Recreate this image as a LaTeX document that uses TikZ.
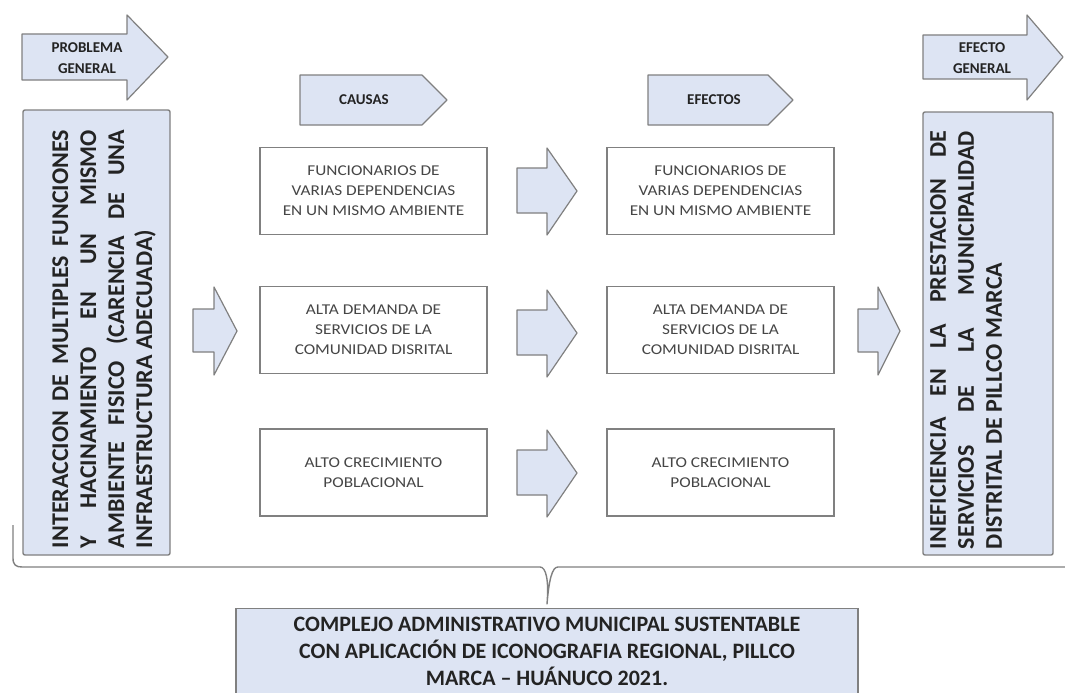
\documentclass[tikz,border=0pt]{standalone}
\usepackage{fontspec}
\setmainfont{Carlito}
\newfontfamily\stretchfont[FakeStretch=1.15]{Carlito}
\definecolor{bfill}{RGB}{221,228,243}
\definecolor{bline}{RGB}{128,128,128}
\definecolor{txt}{RGB}{70,70,70}
\definecolor{dtxt}{RGB}{35,35,35}
\newcommand\blkarrow[8]{%
  \filldraw[arr] (#1,#4) -- (#2,#4) -- (#2,#6) -- (#3,#8) -- (#2,#7) -- (#2,#5) -- (#1,#5) -- cycle;}
\begin{document}
\begin{tikzpicture}[x=1pt,y=-1pt,
  arr/.style={draw=bline, line width=1.2pt, fill=bfill, line join=round},
  wbox/.style={draw=bline, line width=1.6pt, fill=white, minimum width=227pt, minimum height=87pt,
    inner sep=0pt, align=center, text=txt, font=\stretchfont\fontsize{15}{20}\selectfont},
  tallbox/.style={draw=bline, line width=1.4pt, fill=bfill, rounded corners=2pt, inner sep=0pt},
  talltext/.style={rotate=90, text width=418pt, align=justify, inner sep=0pt, text=dtxt,
    font=\bfseries\fontsize{24}{28}\selectfont},
  htext/.style={align=center, inner sep=0pt, text=dtxt, font=\bfseries\fontsize{15}{21}\selectfont},
  brace/.style={draw=bline, line width=1.4pt, line join=round}]
\useasboundingbox (0,0) rectangle (1065,693);
\fill[white] (0,0) rectangle (1065,693);

% header arrows
\blkarrow{22}{127}{168}{34}{80}{15}{100}{57}
\node[htext] (pg) at (87,58) {PROBLEMA\\GENERAL};
\blkarrow{923}{1027}{1063}{35}{79}{15}{100}{57}
\node[htext] (eg) at (982,58) {EFECTO\\GENERAL};

\filldraw[arr] (300,75) -- (422,75) -- (447,100) -- (422,125) -- (300,125) -- cycle;
\node[htext] (causas) at (364,100) {CAUSAS};
\filldraw[arr] (648,75) -- (768,75) -- (793,100) -- (768,125) -- (648,125) -- cycle;
\node[htext] (efectos) at (714,100) {EFECTOS};

% tall boxes
\node[tallbox, minimum width=147pt, minimum height=445pt] (lbox) at (96.5,332.5) {};
\node[talltext] (ltext) at (104,339) {INTERACCION DE MULTIPLES FUNCIONES\linebreak
Y HACINAMIENTO EN UN MISMO\linebreak
AMBIENTE FISICO (CARENCIA DE UNA\linebreak
INFRAESTRUCTURA ADECUADA)};
\node[tallbox, minimum width=130pt, minimum height=443pt] (rbox) at (988,333.5) {};
\node[talltext] (rtext) at (966,340) {INEFICIENCIA EN LA PRESTACION DE\linebreak
SERVICIOS DE LA MUNICIPALIDAD\linebreak
DISTRITAL DE PILLCO MARCA};

% cause / effect boxes
\node[wbox] (c1) at (373.5,191) {FUNCIONARIOS DE\\VARIAS DEPENDENCIAS\\EN UN MISMO AMBIENTE};
\node[wbox] (c2) at (373.5,330) {ALTA DEMANDA DE\\SERVICIOS DE LA\\COMUNIDAD DISRITAL};
\node[wbox] (c3) at (373.5,472.5) {ALTO CRECIMIENTO\\POBLACIONAL};
\node[wbox] (e1) at (720.5,191) {FUNCIONARIOS DE\\VARIAS DEPENDENCIAS\\EN UN MISMO AMBIENTE};
\node[wbox] (e2) at (720.5,330) {ALTA DEMANDA DE\\SERVICIOS DE LA\\COMUNIDAD DISRITAL};
\node[wbox] (e3) at (720.5,472.5) {ALTO CRECIMIENTO\\POBLACIONAL};

% block arrows
\blkarrow{193}{214}{237}{309}{352}{287}{375}{331}
\blkarrow{858}{878}{900}{309}{352}{287}{375}{331}
\blkarrow{517}{547}{577}{168}{213}{148}{235}{191}
\blkarrow{517}{547}{577}{310}{355}{290}{377}{333}
\blkarrow{517}{547}{577}{450}{495}{430}{517}{473}

% bottom box
\node[draw=bline, line width=1.4pt, fill=bfill, minimum width=622pt, minimum height=100pt, anchor=north, inner sep=0pt] (bbox) at (547,608) {};
\node[align=center, inner sep=0pt, anchor=north, text=dtxt, font=\bfseries\fontsize{22}{27}\selectfont] (btext) at (547,617)
 {COMPLEJO ADMINISTRATIVO MUNICIPAL SUSTENTABLE\\CON APLICACIÓN DE ICONOGRAFIA REGIONAL, PILLCO\\MARCA – HUÁNUCO 2021.};

% brace
\coordinate (bstart) at (13,525);
\coordinate (bend) at (1065,567);
\draw[brace] (bstart) -- (13,558) .. controls (13,565) and (16,567) .. (22,567) -- (540,567)
  .. controls (546,567) and (549,580) .. ([yshift=4pt]bbox.north)
  .. controls (549,580) and (552,567) .. (558,567) -- (bend);
\end{tikzpicture}
\end{document}
